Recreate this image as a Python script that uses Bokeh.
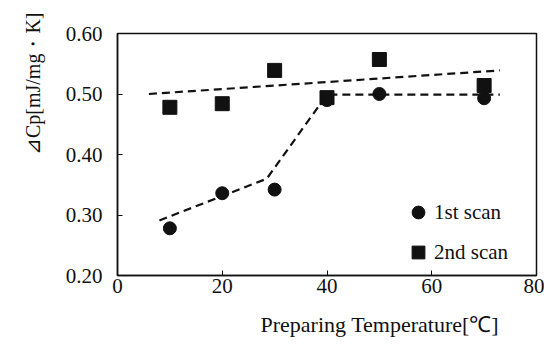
from bokeh.plotting import figure
from bokeh.models import (FixedTicker, NumeralTickFormatter, Range1d, Title,
                          Legend, LegendItem)
from bokeh.embed import file_html
from bokeh.resources import INLINE

# ---- data ----
temps = [10, 20, 30, 40, 50, 70]
scan1 = [0.278, 0.336, 0.342, 0.490, 0.500, 0.493]
scan2 = [0.478, 0.484, 0.539, 0.494, 0.557, 0.514]

fit1_x = [8, 28.5, 40, 73]
fit1_y = [0.291, 0.360, 0.499, 0.499]
fit2_x = [6, 73]
fit2_y = [0.500, 0.539]

x_ticks = [0, 20, 40, 60, 80]
y_ticks = [0.20, 0.30, 0.40, 0.50, 0.60]

x_title = "Preparing Temperature[℃]"
y_title = "⊿Cp[mJ/mg・K]"
series_names = ["1st scan", "2nd scan"]

FONT = "Liberation Serif"
INK = "#111111"

p = figure(width=544, height=352, output_backend="svg", toolbar_location=None,
           x_range=Range1d(0, 80), y_range=Range1d(0.20, 0.60),
           min_border_left=117, min_border_right=8, min_border_top=33,
           min_border_bottom=77)
p.grid.visible = False
p.outline_line_color = INK
p.outline_line_width = 1.5
p.background_fill_color = "white"

for ax in (p.xaxis[0], p.yaxis[0]):
    ax.axis_line_color = INK
    ax.axis_line_width = 1.5
    ax.major_tick_in = 5
    ax.major_tick_out = 0
    ax.minor_tick_in = 0
    ax.minor_tick_out = 0
    ax.major_tick_line_color = INK
    ax.major_label_text_font = FONT
    ax.major_label_text_font_size = "21px"
    ax.major_label_text_color = INK

p.xaxis.ticker = FixedTicker(ticks=x_ticks)
p.yaxis.ticker = FixedTicker(ticks=y_ticks)
p.yaxis.formatter = NumeralTickFormatter(format="0.00")
p.yaxis.major_label_standoff = 15
p.xaxis.major_label_standoff = 3

# trend lines
p.line(fit2_x, fit2_y, line_color=INK, line_width=2.2, line_dash="8 5")
p.line(fit1_x, fit1_y, line_color=INK, line_width=2.2, line_dash="8 5")

r1 = p.scatter(temps, scan1, marker="circle", size=13, fill_color=INK, line_color=INK)
r2 = p.scatter(temps, scan2, marker="square", size=14, fill_color=INK, line_color=INK)

legend = Legend(items=[LegendItem(label=series_names[0], renderers=[r1]),
                       LegendItem(label=series_names[1], renderers=[r2])],
                location=(285, 7), padding=0, margin=0, spacing=8,
                glyph_width=32, glyph_height=32, label_standoff=0,
                border_line_alpha=0, background_fill_alpha=0,
                label_text_font=FONT, label_text_font_size="21px",
                label_text_color=INK)
p.add_layout(legend)

p.add_layout(Title(text=x_title, align="left", offset=143, standoff=28,
                   text_font=FONT, text_font_size="22px",
                   text_font_style="normal", text_color=INK), "below")
p.add_layout(Title(text=y_title, align="right", offset=-21, standoff=38,
                   text_font=FONT, text_font_size="20px",
                   text_font_style="normal", text_color=INK), "left")

open("out.html", "w").write(file_html(p, INLINE))
